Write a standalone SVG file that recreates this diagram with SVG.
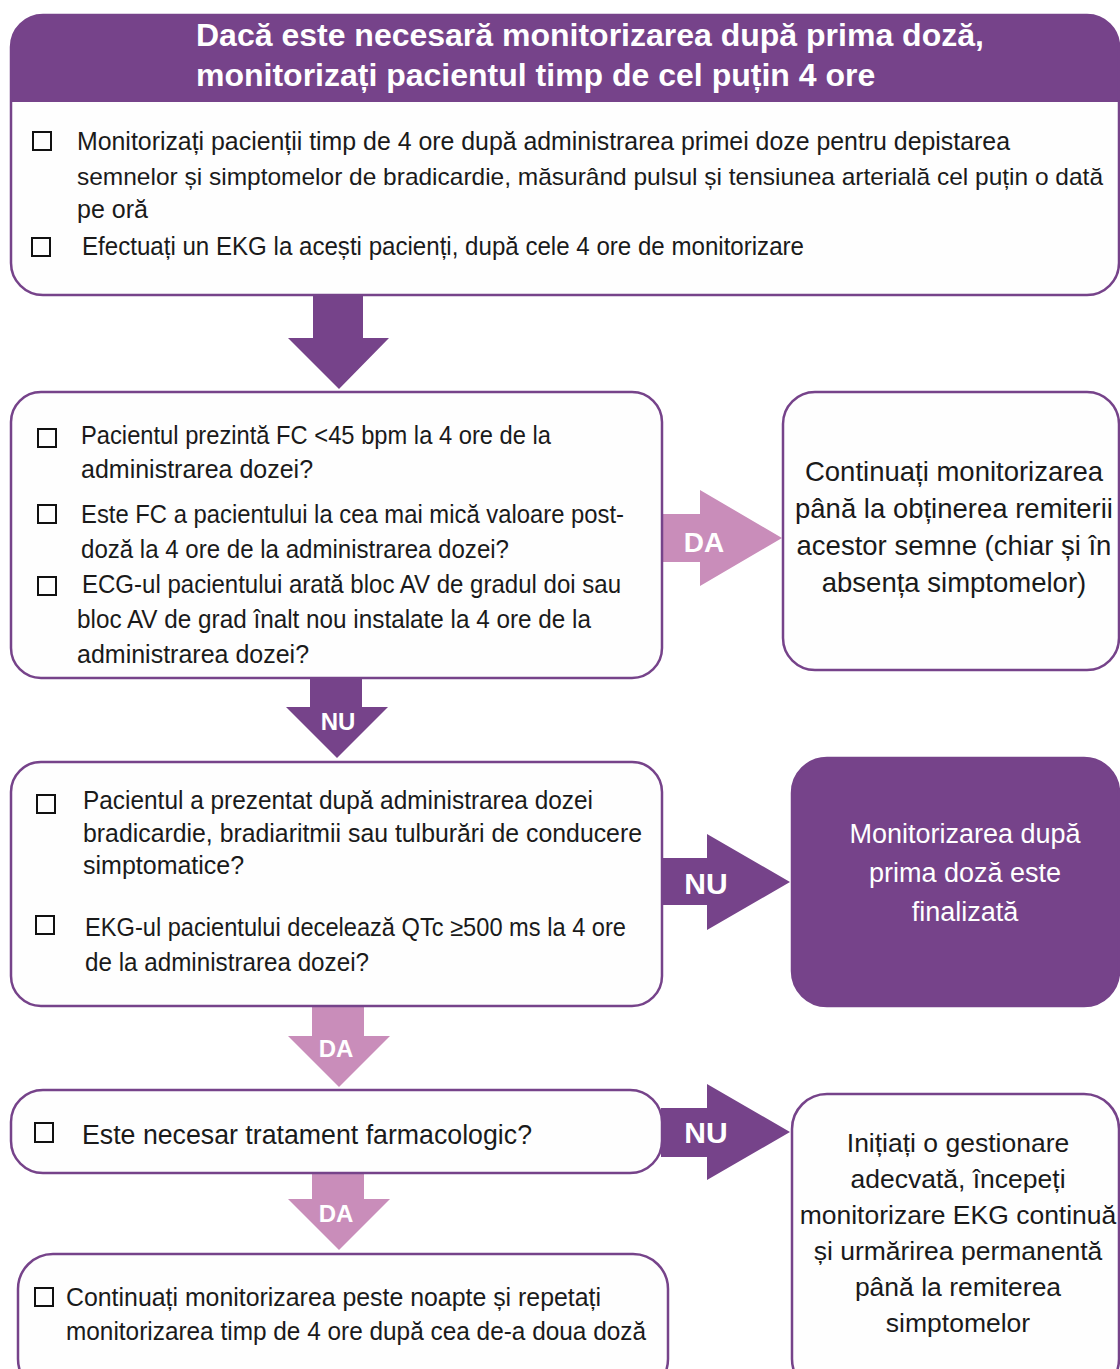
<svg xmlns="http://www.w3.org/2000/svg" width="1120" height="1369" viewBox="0 0 1120 1369">
<defs>
<style>
.box{fill:#FEFEFE;stroke:#76438A;stroke-width:2.5}
.pbox{fill:#76438A;stroke:#76438A;stroke-width:2.5}
.cb{fill:none;stroke:#111;stroke-width:2}
.t{font-family:"Liberation Sans",Arial,sans-serif;font-size:25px;fill:#1a1a1a}
.tc{font-family:"Liberation Sans",Arial,sans-serif;font-size:26.5px;fill:#1a1a1a;text-anchor:middle}
.tc2{font-family:"Liberation Sans",Arial,sans-serif;font-size:27.5px;fill:#1a1a1a;text-anchor:middle}
.tw{font-family:"Liberation Sans",Arial,sans-serif;font-size:27px;fill:#ffffff;text-anchor:middle}
.hd{font-family:"Liberation Sans",Arial,sans-serif;font-size:32px;font-weight:bold;fill:#ffffff}
.lbl{font-family:"Liberation Sans",Arial,sans-serif;font-weight:bold;fill:#ffffff;text-anchor:middle}
.purple{fill:#76438A}
.pink{fill:#C98DBA}
</style>
</defs>
<rect width="1120" height="1369" fill="#ffffff"/>

<g id="connectors">
<polygon class="purple" points="313,294 363,294 363,338 389,338 339,389 288,338 313,338"/>
<polygon class="pink" points="661,514 700,514 700,490 782,538 700,586 700,562 661,562"/>
<text class="lbl" x="704" y="552" style="font-size:28px">DA</text>
<polygon class="purple" points="310,678 362,678 362,707 388,707 337,758 286,707 310,707"/>
<text class="lbl" x="338" y="730" style="font-size:24px">NU</text>
<polygon class="purple" points="661,858 707,858 707,834 790,882 707,930 707,905 661,905"/>
<text class="lbl" x="706" y="894" style="font-size:30px">NU</text>
<polygon class="pink" points="312,1005 364,1005 364,1036 390,1036 339,1087 288,1036 312,1036"/>
<text class="lbl" x="336" y="1057" style="font-size:24px">DA</text>
<polygon class="purple" points="661,1108 707,1108 707,1084 790,1132 707,1180 707,1157 661,1157"/>
<text class="lbl" x="706" y="1143" style="font-size:30px">NU</text>
<polygon class="pink" points="312,1172 364,1172 364,1199 390,1199 339,1250 288,1199 312,1199"/>
<text class="lbl" x="336" y="1222" style="font-size:24px">DA</text>
</g>

<g id="node-start">
<rect x="11" y="15" width="1108" height="280" rx="32" fill="#FEFEFE"/>
<path class="purple" d="M11,102 V47 A32,32 0 0 1 43,15 H1087 A32,32 0 0 1 1119,47 V102 Z"/>
<rect x="11" y="15" width="1108" height="280" rx="32" fill="none" stroke="#76438A" stroke-width="2.5"/>
<text class="hd" x="196" y="46">Dacă este necesară monitorizarea după prima doză,</text>
<text class="hd" x="196" y="86">monitorizați pacientul timp de cel puțin 4 ore</text>
<rect class="cb" x="33" y="132" width="18" height="18"/>
<text class="t" x="77" y="150" textLength="933" lengthAdjust="spacingAndGlyphs">Monitorizați pacienții timp de 4 ore după administrarea primei doze pentru depistarea</text>
<text class="t" x="77" y="185" style="font-size:24px" textLength="1026" lengthAdjust="spacingAndGlyphs">semnelor și simptomelor de bradicardie, măsurând pulsul și tensiunea arterială cel puțin o dată</text>
<text class="t" x="77" y="218">pe oră</text>
<rect class="cb" x="32" y="238" width="18" height="18"/>
<text class="t" x="82" y="255" textLength="722" lengthAdjust="spacingAndGlyphs">Efectuați un EKG la acești pacienți, după cele 4 ore de monitorizare</text>
</g>

<g id="node-q1">
<rect class="box" x="11" y="392" width="651" height="286" rx="30"/>
<rect class="cb" x="38" y="429" width="18" height="18"/>
<text class="t" x="81" y="444" textLength="470" lengthAdjust="spacingAndGlyphs">Pacientul prezintă FC &lt;45 bpm la 4 ore de la</text>
<text class="t" x="81" y="478">administrarea dozei?</text>
<rect class="cb" x="38" y="505" width="18" height="18"/>
<text class="t" x="81" y="523" textLength="543" lengthAdjust="spacingAndGlyphs">Este FC a pacientului la cea mai mică valoare post-</text>
<text class="t" x="81" y="558" textLength="428" lengthAdjust="spacingAndGlyphs">doză la 4 ore de la administrarea dozei?</text>
<rect class="cb" x="38" y="577" width="18" height="18"/>
<text class="t" x="82" y="593" textLength="539" lengthAdjust="spacingAndGlyphs">ECG-ul pacientului arată bloc AV de gradul doi sau</text>
<text class="t" x="77" y="628" textLength="514" lengthAdjust="spacingAndGlyphs">bloc AV de grad înalt nou instalate la 4 ore de la</text>
<text class="t" x="77" y="663">administrarea dozei?</text>
</g>

<g id="node-continue">
<rect class="box" x="783" y="392" width="336" height="278" rx="32"/>
<text class="tc2" x="954" y="481">Continuați monitorizarea</text>
<text class="tc2" x="954" y="518">până la obținerea remiterii</text>
<text class="tc2" x="954" y="555">acestor semne (chiar și în</text>
<text class="tc2" x="954" y="592">absența simptomelor)</text>
</g>

<g id="node-q2">
<rect class="box" x="11" y="762" width="651" height="244" rx="30"/>
<rect class="cb" x="37" y="795" width="18" height="18"/>
<text class="t" x="83" y="809" textLength="510" lengthAdjust="spacingAndGlyphs">Pacientul a prezentat după administrarea dozei</text>
<text class="t" x="83" y="842" textLength="559" lengthAdjust="spacingAndGlyphs">bradicardie, bradiaritmii sau tulburări de conducere</text>
<text class="t" x="83" y="874">simptomatice?</text>
<rect class="cb" x="36" y="916" width="18" height="18"/>
<text class="t" x="85" y="936" textLength="541" lengthAdjust="spacingAndGlyphs">EKG-ul pacientului decelează QTc ≥500 ms la 4 ore</text>
<text class="t" x="85" y="971" textLength="284" lengthAdjust="spacingAndGlyphs">de la administrarea dozei?</text>
</g>

<g id="node-done">
<rect class="pbox" x="792" y="758" width="327" height="248" rx="35"/>
<text class="tw" x="965" y="843">Monitorizarea după</text>
<text class="tw" x="965" y="882">prima doză este</text>
<text class="tw" x="965" y="921">finalizată</text>
</g>

<g id="node-q3">
<rect class="box" x="11" y="1090" width="651" height="83" rx="32"/>
<rect class="cb" x="35" y="1123" width="18" height="19"/>
<text class="t" x="82" y="1144" style="font-size:27.5px" textLength="450" lengthAdjust="spacingAndGlyphs">Este necesar tratament farmacologic?</text>
</g>

<g id="node-overnight">
<rect class="box" x="18" y="1254" width="650" height="140" rx="35"/>
<rect class="cb" x="35" y="1288" width="18" height="18"/>
<text class="t" x="66" y="1306" textLength="535" lengthAdjust="spacingAndGlyphs">Continuați monitorizarea peste noapte și repetați</text>
<text class="t" x="66" y="1340" textLength="580" lengthAdjust="spacingAndGlyphs">monitorizarea timp de 4 ore după cea de-a doua doză</text>
</g>

<g id="node-manage">
<rect class="box" x="792" y="1094" width="327" height="300" rx="35"/>
<text class="tc" x="958" y="1152">Inițiați o gestionare</text>
<text class="tc" x="958" y="1188">adecvată, începeți</text>
<text class="tc" x="958" y="1224">monitorizare EKG continuă</text>
<text class="tc" x="958" y="1260">și urmărirea permanentă</text>
<text class="tc" x="958" y="1296">până la remiterea</text>
<text class="tc" x="958" y="1332">simptomelor</text>
</g>
</svg>
